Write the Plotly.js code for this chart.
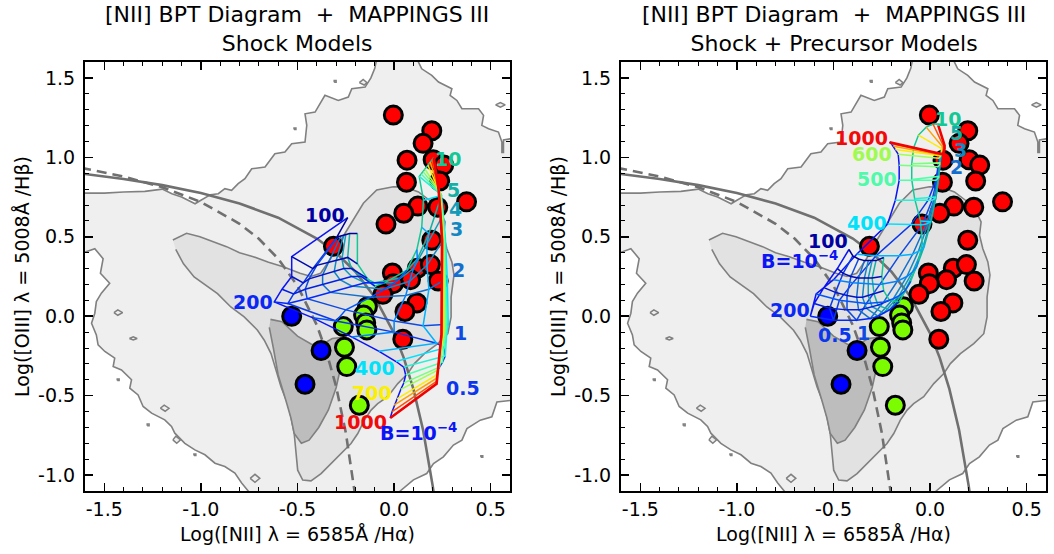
<!DOCTYPE html>
<html><head><meta charset="utf-8">
<script src="https://cdn.plot.ly/plotly-3.0.1.min.js"></script>
<style>html,body{margin:0;padding:0;background:#fff}#chart{width:1054px;height:554px}</style>
</head><body><div id="chart"></div>
<script>
// ---------- SDSS density contours ----------
const outerX = [-1.62,-1.50,-1.40,-1.29,-1.20,-1.15,-1.10,-1.03,-1.00,-0.95,-0.91,-0.876,-0.841,-0.807,-0.772,-0.737,-0.668,-0.617,-0.565,-0.53,-0.461,-0.452,-0.461,-0.409,-0.358,-0.289,-0.237,-0.219,-0.15,-0.12,-0.10,-0.09,-0.09,0.126,0.126,0.143,0.195,0.23,0.299,0.29,0.325,0.351,0.437,0.463,0.454,0.489,0.54,0.558,0.558,0.566,0.566,0.62,0.62,0.532,0.506,0.446,0.377,0.351,0.307,0.255,0.204,0.169,0.10,0.031,0.031,-0.755,-0.755,-0.789,-0.824,-0.876,-0.927,-0.979,-1.031,-1.083,-1.135,-1.152,-1.187,-1.255,-1.299,-1.325,-1.368,-1.359,-1.411,-1.454,-1.446,-1.497,-1.532,-1.541,-1.566,-1.549,-1.541,-1.515,-1.472,-1.52,-1.506,-1.549,-1.62];
const outerY = [0.775,0.775,0.782,0.786,0.80,0.771,0.75,0.708,0.73,0.765,0.771,0.803,0.792,0.834,0.866,0.928,0.939,1.023,1.033,1.086,1.096,1.201,1.274,1.285,1.39,1.358,1.379,1.432,1.442,1.50,1.56,1.62,1.62,1.62,1.60,1.557,1.516,1.474,1.432,1.39,1.358,1.306,1.306,1.264,1.201,1.18,1.159,1.096,1.03,1.03,1.11,1.12,-0.528,-0.539,-0.633,-0.654,-0.707,-0.78,-0.811,-0.885,-0.927,-0.99,-1.03,-1.10,-1.12,-1.12,-1.10,-1.05,-0.987,-0.946,-0.925,-0.872,-0.841,-0.80,-0.736,-0.694,-0.652,-0.61,-0.568,-0.495,-0.453,-0.40,-0.338,-0.317,-0.264,-0.222,-0.18,-0.118,-0.044,0.019,0.092,0.145,0.208,0.27,0.362,0.425,0.394];
const midX = [-1.145,-1.074,-1.005,-0.94,-0.867,-0.80,-0.729,-0.65,-0.574,-0.487,-0.43,-0.38,-0.33,-0.29,-0.25,-0.211,-0.159,-0.09,-0.004,0.057,0.126,0.195,0.23,0.264,0.256,0.273,0.299,0.31,0.295,0.295,0.278,0.226,0.157,0.105,0.071,0.019,-0.033,-0.085,-0.119,-0.154,-0.188,-0.223,-0.275,-0.326,-0.378,-0.43,-0.473,-0.499,-0.508,-0.517,-0.534,-0.551,-0.585,-0.611,-0.637,-0.672,-0.707,-0.776,-0.845,-0.914,-0.983,-1.035,-1.09,-1.13];
const midY = [0.48,0.522,0.50,0.47,0.438,0.40,0.375,0.34,0.312,0.27,0.25,0.27,0.36,0.45,0.53,0.606,0.711,0.795,0.815,0.813,0.782,0.719,0.677,0.593,0.51,0.425,0.342,0.26,0.121,-0.004,-0.11,-0.172,-0.235,-0.298,-0.361,-0.424,-0.507,-0.55,-0.591,-0.654,-0.738,-0.801,-0.864,-0.927,-0.99,-1.036,-1.031,-0.969,-0.864,-0.738,-0.633,-0.55,-0.445,-0.34,-0.235,-0.151,-0.088,-0.004,0.058,0.142,0.205,0.247,0.33,0.42];
const coreX = [-0.64,-0.58,-0.50,-0.43,-0.39,-0.32,-0.25,-0.27,-0.28,-0.30,-0.34,-0.39,-0.44,-0.48,-0.517,-0.534,-0.56,-0.60,-0.625,-0.646];
const coreY = [-0.02,-0.035,-0.125,-0.175,-0.19,-0.14,-0.13,-0.25,-0.34,-0.45,-0.59,-0.70,-0.78,-0.80,-0.738,-0.64,-0.53,-0.37,-0.20,-0.07];
const islandsX = [[-0.18,-0.16,-0.14,-0.155,-0.18],[-0.31,-0.30,-0.30,-0.31,-0.31],[-0.518,-0.508,-0.508,-0.518,-0.518],[0.525,0.55,0.575,0.55,0.525],[-1.45,-1.43,-1.405,-1.43,-1.45],[-1.21,-1.19,-1.165,-1.185,-1.21],[-1.278,-1.268,-1.268,-1.278,-1.278],[-1.145,-1.13,-1.105,-1.125,-1.145],[-0.745,-0.72,-0.695,-0.72,-0.745],[0.449,0.459,0.459,0.449,0.449],[-1.433,-1.423,-1.423,-1.433,-1.433],[-1.036,-1.026,-1.026,-1.036,-1.036],[-1.37,-1.35,-1.33,-1.35,-1.37]];
const islandsY = [[1.47,1.49,1.47,1.455,1.47],[1.473,1.473,1.483,1.483,1.473],[1.175,1.175,1.185,1.185,1.175],[1.33,1.345,1.33,1.315,1.33],[0.023,0.04,0.023,0.006,0.023],[-0.579,-0.56,-0.579,-0.598,-0.579],[-0.689,-0.689,-0.679,-0.679,-0.689],[-0.778,-0.755,-0.778,-0.80,-0.778],[-1.02,-0.995,-1.02,-1.045,-1.02],[-0.888,-0.888,-0.878,-0.878,-0.888],[-0.405,-0.405,-0.395,-0.395,-0.405],[-0.877,-0.877,-0.867,-0.867,-0.877],[-0.14,-0.13,-0.14,-0.15,-0.14]];

// ---------- demarcation curves ----------
const kewleyX = [-1.62,-1.4,-1.2,-1.0,-0.8,-0.6,-0.4,-0.3,-0.2,-0.1,0.0,0.05,0.1,0.15,0.2,0.21];
const kewleyY = [0.898,0.864,0.825,0.775,0.710,0.620,0.489,0.398,0.280,0.120,-0.108,-0.262,-0.459,-0.716,-1.069,-1.156];
const kauffX = [-1.62,-1.4,-1.2,-1.0,-0.8,-0.7,-0.6,-0.5,-0.4,-0.35,-0.3,-0.25,-0.2];
const kauffY = [0.934,0.879,0.812,0.719,0.582,0.487,0.362,0.191,-0.056,-0.225,-0.443,-0.733,-1.14];

// ---------- observed line ratios ----------
const redX = [-0.004,0.195,0.15,0.067,0.202,0.257,0.064,0.236,0.375,0.123,0.226,0.05,-0.042,0.195,-0.314,-0.009,0.12,0.188,0.085,0.228,-0.004,-0.058,0.118,0.056,0.045];
const redY = [1.266,1.167,1.088,0.982,0.985,0.951,0.843,0.851,0.72,0.693,0.686,0.648,0.58,0.478,0.44,0.272,0.302,0.325,0.23,0.222,0.205,0.138,0.084,0.03,-0.145];
const greenX = [-0.138,-0.158,-0.147,-0.141,-0.263,-0.257,-0.245,-0.18];
const greenY = [0.06,0.008,-0.042,-0.086,-0.065,-0.195,-0.317,-0.56];
const blueX = [-0.53,-0.378,-0.461];
const blueY = [0.0,-0.216,-0.428];

// ---------- MAPPINGS III grids: rows = magnetic parameter, columns = shock velocity ----------
const velocities = [100,125,150,175,200,250,300,350,400,450,500,550,600,700,800,900,1000];
const bValues = ['1e-4','0.5','1','2','3','4','5','10'];
const shockX = [
 [-0.24,-0.53,-0.53,-0.58,-0.62,-0.42,-0.22,-0.08,0.01,0.05,0.06,0.05,0.035,0.015,0.0,-0.01,-0.02],
 [-0.30,-0.42,-0.47,-0.52,-0.55,-0.30,0.0,0.22,0.26,0.265,0.25,0.235,0.225,0.22,0.22,0.22,0.22],
 [-0.29,-0.40,-0.44,-0.46,-0.45,-0.25,0.0,0.15,0.28,0.275,0.27,0.265,0.26,0.255,0.25,0.247,0.245],
 [-0.275,-0.34,-0.37,-0.37,-0.33,-0.12,0.06,0.18,0.275,0.27,0.265,0.262,0.26,0.255,0.252,0.25,0.248],
 [-0.26,-0.30,-0.31,-0.28,-0.22,-0.05,0.08,0.17,0.265,0.262,0.26,0.258,0.256,0.254,0.252,0.25,0.248],
 [-0.25,-0.27,-0.26,-0.22,-0.15,0.0,0.10,0.17,0.255,0.253,0.251,0.249,0.247,0.245,0.243,0.241,0.24],
 [-0.23,-0.24,-0.22,-0.17,-0.10,0.03,0.12,0.18,0.245,0.243,0.241,0.239,0.237,0.235,0.233,0.231,0.23],
 [-0.19,-0.19,-0.14,-0.10,-0.05,0.066,0.118,0.143,0.152,0.13,0.14,0.15,0.16,0.175,0.187,0.197,0.205]];
const shockY = [
 [0.62,0.375,0.25,0.17,0.09,-0.01,-0.13,-0.22,-0.285,-0.32,-0.37,-0.42,-0.46,-0.52,-0.56,-0.60,-0.64],
 [0.49,0.30,0.21,0.14,0.08,-0.03,-0.10,-0.17,-0.20,-0.25,-0.29,-0.32,-0.34,-0.37,-0.39,-0.41,-0.425],
 [0.50,0.32,0.235,0.17,0.11,0.04,-0.03,-0.06,-0.05,-0.06,-0.07,-0.08,-0.09,-0.10,-0.105,-0.11,-0.115],
 [0.505,0.34,0.26,0.20,0.15,0.12,0.13,0.17,0.24,0.235,0.23,0.225,0.22,0.215,0.21,0.205,0.20],
 [0.51,0.35,0.28,0.23,0.19,0.17,0.22,0.32,0.50,0.497,0.494,0.491,0.488,0.485,0.482,0.479,0.476],
 [0.515,0.36,0.30,0.25,0.21,0.21,0.30,0.45,0.64,0.64,0.64,0.64,0.64,0.64,0.64,0.64,0.64],
 [0.52,0.37,0.30,0.25,0.21,0.24,0.36,0.52,0.76,0.765,0.77,0.775,0.78,0.785,0.79,0.795,0.80],
 [0.52,0.33,0.24,0.19,0.21,0.29,0.42,0.56,0.73,0.88,0.895,0.91,0.925,0.95,0.97,0.985,1.0]];
const precX = [
 [-0.42,-0.48,-0.55,-0.60,-0.62,-0.59,-0.50,-0.38,-0.22,-0.18,-0.16,-0.16,-0.165,-0.18,-0.19,-0.20,-0.21],
 [-0.40,-0.45,-0.49,-0.52,-0.50,-0.47,-0.40,-0.28,-0.10,-0.01,0.03,0.04,0.045,0.05,0.055,0.06,0.065],
 [-0.37,-0.41,-0.43,-0.43,-0.38,-0.33,-0.26,-0.16,-0.04,0.01,0.035,0.045,0.05,0.055,0.06,0.065,0.07],
 [-0.34,-0.37,-0.38,-0.37,-0.31,-0.24,-0.17,-0.09,-0.02,0.02,0.04,0.05,0.055,0.06,0.065,0.07,0.075],
 [-0.32,-0.34,-0.35,-0.33,-0.27,-0.19,-0.12,-0.06,-0.01,0.025,0.045,0.05,0.055,0.06,0.065,0.07,0.075],
 [-0.30,-0.32,-0.32,-0.30,-0.24,-0.16,-0.09,-0.04,0.0,0.03,0.045,0.05,0.055,0.06,0.065,0.07,0.075],
 [-0.28,-0.30,-0.29,-0.27,-0.21,-0.13,-0.07,-0.03,0.005,0.03,0.045,0.05,0.055,0.06,0.065,0.07,0.075],
 [-0.24,-0.25,-0.24,-0.21,-0.16,-0.10,-0.06,-0.04,-0.05,-0.08,-0.095,-0.095,-0.085,-0.06,-0.02,0.015,0.04]];
const precY = [
 [0.42,0.30,0.18,0.08,0.0,0.14,0.23,0.39,0.58,0.73,0.855,0.95,1.02,1.05,1.07,1.085,1.095],
 [0.38,0.27,0.15,0.05,-0.025,0.10,0.21,0.38,0.575,0.73,0.855,0.94,0.995,1.01,1.015,1.02,1.02],
 [0.36,0.25,0.13,0.04,-0.025,0.08,0.20,0.38,0.575,0.73,0.86,0.945,1.0,1.02,1.025,1.03,1.03],
 [0.35,0.24,0.12,0.04,-0.015,0.09,0.22,0.39,0.58,0.735,0.865,0.95,1.005,1.025,1.035,1.04,1.045],
 [0.35,0.24,0.12,0.05,0.0,0.11,0.25,0.41,0.585,0.74,0.87,0.955,1.01,1.035,1.045,1.05,1.055],
 [0.35,0.24,0.13,0.06,0.02,0.13,0.28,0.42,0.59,0.745,0.875,0.96,1.015,1.045,1.055,1.06,1.065],
 [0.35,0.24,0.14,0.07,0.04,0.16,0.31,0.44,0.595,0.75,0.88,0.965,1.02,1.055,1.065,1.07,1.075],
 [0.37,0.25,0.16,0.10,0.09,0.22,0.35,0.46,0.60,0.74,0.86,0.96,1.06,1.14,1.19,1.21,1.21]];

// grid labels: text and anchor (data coordinates)
const shockLabelText = ['100','200','400','700','1000','B=10<sup>−4</sup>','0.5','1','2','3','4','5','10'];
const shockLabelKey  = ['v100','v200','v400','v700','v1000','b0','b1','b2','b3','b4','b5','b6','b7'];
const shockLabelX = [-0.358,-0.729,-0.098,-0.116,-0.176,0.126,0.359,0.342,0.333,0.325,0.316,0.307,0.281];
const shockLabelY = [0.635,0.092,-0.327,-0.484,-0.663,-0.726,-0.453,-0.107,0.291,0.551,0.677,0.792,0.991];
const precLabelText = ['1000','600','500','400','100','B=10<sup>−4</sup>','200','0.5','1','10','5','3','2'];
const precLabelKey  = ['v1000','v600','v500','v400','v100','b0','v200','b1','b2','b7','b6','b4','b3'];
const precLabelX = [-0.354,-0.302,-0.276,-0.328,-0.527,-0.674,-0.725,-0.492,-0.345,0.095,0.138,0.155,0.138];
const precLabelY = [1.12,1.021,0.862,0.589,0.475,0.355,0.04,-0.118,-0.107,1.239,1.151,1.046,0.941];

// ---------- styles ----------
const FONT = 'DejaVu Sans';
const velAnchors = [[100,[0,0,150]],[200,[0,40,255]],[300,[0,130,255]],[400,[0,225,255]],[500,[80,255,170]],[600,[160,255,80]],[700,[255,235,0]],[800,[255,160,0]],[900,[255,80,0]],[1000,[240,0,0]]];
function velColor(v){
  for(let i=0;i<velAnchors.length-1;i++){
    const [v0,c0]=velAnchors[i],[v1,c1]=velAnchors[i+1];
    if(v>=v0&&v<=v1){const t=(v-v0)/(v1-v0);return 'rgb('+c0.map((c,k)=>Math.round(c+(c1[k]-c)*t)).join(',')+')';}
  }
  return 'rgb(240,0,0)';
}
const bColors = ['rgb(10,20,245)','rgb(10,55,235)','rgb(15,75,225)','rgb(20,110,205)','rgb(20,135,195)','rgb(20,155,185)','rgb(20,175,165)','rgb(20,200,150)'];
const labelColor = {v100:'rgb(0,0,160)',v200:'rgb(10,40,245)',v400:'rgb(0,225,250)',v500:'rgb(80,250,170)',v600:'rgb(160,250,80)',v700:'rgb(250,240,0)',v1000:'rgb(240,10,10)',
  b0:bColors[0],b1:bColors[1],b2:bColors[2],b3:bColors[3],b4:bColors[4],b5:bColors[5],b6:bColors[6],b7:bColors[7]};

const traces = [];
const annotations = [];
function panel(xa, ya, gx, gy, lt, lk, lx, ly){
  const base = {xaxis:xa, yaxis:ya, hoverinfo:'skip', showlegend:false};
  traces.push(Object.assign({x:outerX,y:outerY,mode:'lines',fill:'toself',fillcolor:'#efefef',line:{color:'#808080',width:1.6}},base));
  for(let i=0;i<islandsX.length;i++) traces.push(Object.assign({x:islandsX[i],y:islandsY[i],mode:'lines',fill:'toself',fillcolor:'#efefef',line:{color:'#808080',width:1.5}},base));
  traces.push(Object.assign({x:midX,y:midY,mode:'lines',fill:'toself',fillcolor:'#e2e2e2',line:{color:'#808080',width:1.6}},base));
  traces.push(Object.assign({x:coreX,y:coreY,mode:'lines',fill:'toself',fillcolor:'#bdbdbd',line:{color:'#808080',width:1.6}},base));
  traces.push(Object.assign({x:kauffX,y:kauffY,mode:'lines',line:{color:'#707070',width:2.6,dash:'10px,6px'}},base));
  traces.push(Object.assign({x:kewleyX,y:kewleyY,mode:'lines',line:{color:'#707070',width:2.6}},base));
  const mk = c => ({size:18,color:c,line:{color:'#000',width:3}});
  traces.push(Object.assign({x:redX,y:redY,mode:'markers',marker:mk('#ff0000')},base));
  traces.push(Object.assign({x:greenX,y:greenY,mode:'markers',marker:mk('#7cfc00')},base));
  traces.push(Object.assign({x:blueX,y:blueY,mode:'markers',marker:mk('#0000ff')},base));
  // constant-B lines
  for(let b=0;b<gx.length;b++) traces.push(Object.assign({x:gx[b],y:gy[b],mode:'lines',line:{color:bColors[b],width:1.5}},base));
  // constant-velocity lines
  for(let j=0;j<velocities.length;j++){
    traces.push(Object.assign({x:gx.map(r=>r[j]),y:gy.map(r=>r[j]),mode:'lines',line:{color:velColor(velocities[j]),width:velocities[j]===1000?2.6:1.5}},base));
  }
  for(let i=0;i<lt.length;i++) annotations.push({xref:xa,yref:ya,x:lx[i],y:ly[i],text:lt[i],showarrow:false,xanchor:'center',yanchor:'middle',
    font:{family:FONT,size:19,color:labelColor[lk[i]],weight:'bold'}});
}
panel('x','y',shockX,shockY,shockLabelText,shockLabelKey,shockLabelX,shockLabelY);
panel('x2','y2',precX,precY,precLabelText,precLabelKey,precLabelX,precLabelY);

annotations.push({xref:'paper',yref:'paper',x:0.2822,y:1,xanchor:'center',yanchor:'top',showarrow:false,
  text:'[NII] BPT Diagram\u00a0 +\u00a0 MAPPINGS III<br>Shock Models',font:{family:FONT,size:22,color:'#000'}});
annotations.push({xref:'paper',yref:'paper',x:0.7908,y:1,xanchor:'center',yanchor:'top',showarrow:false,
  text:'[NII] BPT Diagram\u00a0 +\u00a0 MAPPINGS III<br>Shock + Precursor Models',font:{family:FONT,size:22,color:'#000'}});

const tickVals = [-1.5,-1.0,-0.5,0.0,0.5];
const xTickText = ['-1.5','-1.0','-0.5','0.0','0.5'];
const yTickVals = [-1.0,-0.5,0.0,0.5,1.0,1.5];
const yTickText = ['-1.0','-0.5','0.0','0.5','1.0','1.5'];

function axis(dom, rng, tv, tt, title, anchor, isX){
  return {domain:dom, range:rng, anchor:anchor, showgrid:false, zeroline:false, showline:true, linecolor:'#000', linewidth:2,
    mirror:'allticks', ticks:'inside', ticklen:8, tickwidth:1.5, tickcolor:'#000', tickmode:'array', tickvals:tv, ticktext:tt,
    tickfont:{family:FONT,size:19,color:'#000'}, ticklabelstandoff:isX?0:4,
    minor:{tickmode:'linear',tick0:0,dtick:0.1,ticks:'inside',ticklen:4,tickwidth:1,tickcolor:'#000'},
    title:{text:title,font:{family:FONT,size:19,color:'#000'},standoff:isX?9:3}, fixedrange:true};
}
const xd1=[0.0806,0.4839], xd2=[0.5892,0.9924], yd=[0.1137,0.8881];
const xt='Log([NII] λ = 6585Å /Hα)', yt='Log([OIII] λ = 5008Å /Hβ)';
const layout = {width:1054,height:554,margin:{l:0,r:0,t:0,b:0},paper_bgcolor:'#fff',plot_bgcolor:'#fff',showlegend:false,
  font:{family:FONT},
  xaxis:axis(xd1,[-1.6,0.6],tickVals,xTickText,xt,'y',true),
  yaxis:axis(yd,[-1.1,1.6],yTickVals,yTickText,yt,'x',false),
  xaxis2:axis(xd2,[-1.6,0.6],tickVals,xTickText,xt,'y2',true),
  yaxis2:axis(yd,[-1.1,1.6],yTickVals,yTickText,yt,'x2',false),
  annotations:annotations};
Plotly.newPlot('chart',traces,layout,{displayModeBar:false,staticPlot:true});
</script></body></html>
